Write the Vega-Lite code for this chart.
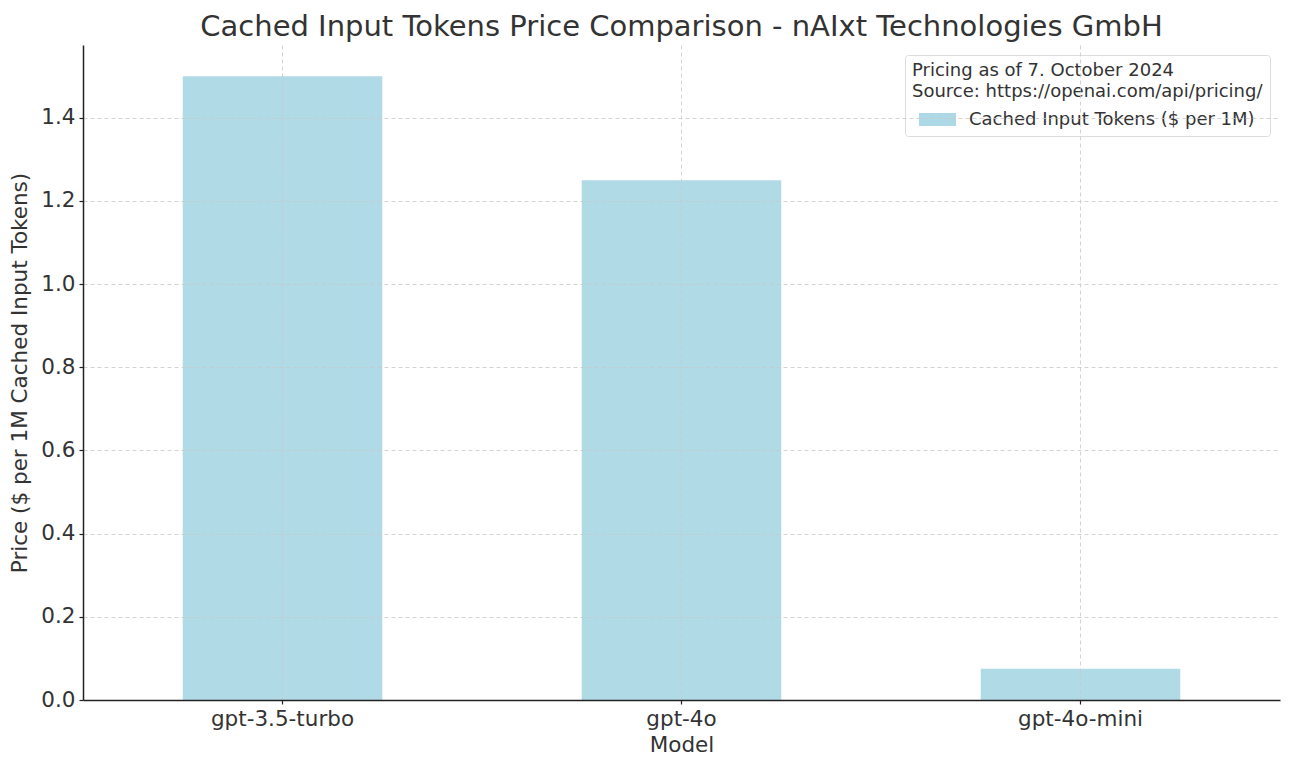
{
  "$schema": "https://vega.github.io/schema/vega-lite/v6.json",
  "width": 1197,
  "height": 655,
  "autosize": {"type": "none"},
  "padding": {"left": 83, "top": 45, "right": 12, "bottom": 70},
  "background": "white",
  "title": {
    "text": "Cached Input Tokens Price Comparison - nAIxt Technologies GmbH",
    "font": "DejaVu Sans",
    "fontSize": 29,
    "fontWeight": "normal",
    "color": "#333333",
    "anchor": "middle",
    "offset": 3
  },
  "config": {
    "view": {"stroke": null},
    "font": "DejaVu Sans"
  },
  "data": {
    "values": [
      {"model": "gpt-3.5-turbo", "price": 1.5, "series": "Cached Input Tokens ($ per 1M)"},
      {"model": "gpt-4o", "price": 1.25, "series": "Cached Input Tokens ($ per 1M)"},
      {"model": "gpt-4o-mini", "price": 0.075, "series": "Cached Input Tokens ($ per 1M)"}
    ]
  },
  "mark": {"type": "bar", "opacity": 0.95},
  "encoding": {
    "x": {
      "field": "model",
      "type": "nominal",
      "sort": null,
      "scale": {"paddingInner": 0.5, "paddingOuter": 0.25},
      "axis": {
        "title": "Model",
        "titleFont": "DejaVu Sans",
        "titleFontSize": 21.5,
        "titleFontWeight": "normal",
        "titleColor": "#333333",
        "titlePadding": 5,
        "labelFont": "DejaVu Sans",
        "labelFontSize": 21.5,
        "labelColor": "#333333",
        "labelAngle": 0,
        "labelPadding": 4,
        "domainColor": "#222222",
        "domainWidth": 1.5,
        "tickColor": "#222222",
        "tickSize": 4,
        "tickWidth": 1.2,
        "bandPosition": 0.5,
        "grid": true,
        "gridColor": "#c8c8c8",
        "gridDash": [4, 3],
        "gridWidth": 0.8,
        "zindex": 1
      }
    },
    "y": {
      "field": "price",
      "type": "quantitative",
      "scale": {"domain": [0, 1.575], "nice": false},
      "axis": {
        "title": "Price ($ per 1M Cached Input Tokens)",
        "titleFont": "DejaVu Sans",
        "titleFontSize": 21.5,
        "titleFontWeight": "normal",
        "titleColor": "#333333",
        "titlePadding": 9,
        "labelFont": "DejaVu Sans",
        "labelFontSize": 21.5,
        "labelColor": "#333333",
        "labelPadding": 4,
        "format": ".1f",
        "values": [0, 0.2, 0.4, 0.6, 0.8, 1.0, 1.2, 1.4],
        "domainColor": "#222222",
        "domainWidth": 1.5,
        "tickColor": "#222222",
        "tickSize": 4,
        "tickWidth": 1.2,
        "grid": true,
        "gridColor": "#c8c8c8",
        "gridDash": [4, 3],
        "gridWidth": 0.8,
        "zindex": 1
      }
    },
    "color": {
      "field": "series",
      "type": "nominal",
      "scale": {"range": ["#ADD8E6"]},
      "legend": {
        "title": ["Pricing as of 7. October 2024", "Source: https://openai.com/api/pricing/"],
        "titleFont": "DejaVu Sans",
        "titleFontSize": 18,
        "titleFontWeight": "normal",
        "titleColor": "#333333",
        "titleLineHeight": 21,
        "titlePadding": 0,
        "titleLimit": 1000,
        "labelFont": "DejaVu Sans",
        "labelFontSize": 18,
        "labelColor": "#333333",
        "labelLimit": 1000,
        "labelOffset": 13,
        "orient": "top-right",
        "offset": 10,
        "padding": 7,
        "strokeColor": "#dddddd",
        "fillColor": "white",
        "cornerRadius": 3,
        "symbolType": "M-1,-0.35H1V0.35H-1Z",
        "symbolSize": 1369,
        "symbolOffset": 7,
        "symbolStrokeWidth": 0,
        "symbolOpacity": 1
      }
    }
  }
}
